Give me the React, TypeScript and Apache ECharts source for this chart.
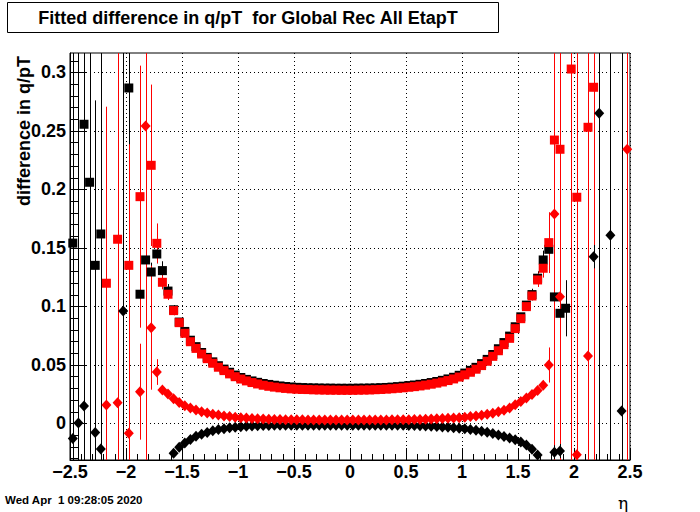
import React, { useEffect, useRef } from "react";
import * as echarts from "echarts";

// ---- binning / axes ----
const ETA_MIN = -2.5;
const BIN_WIDTH = 0.05;
const X_MIN = -2.5;
const X_MAX = 2.5;
const Y_MIN = -0.0314;
const Y_MAX = 0.3165;
const Y_TICKS = [0, 0.05, 0.1, 0.15, 0.2, 0.25, 0.3];
const Y_MINOR = [
  -0.03, -0.02, -0.01, 0.01, 0.02, 0.03, 0.04, 0.06, 0.07, 0.08, 0.09, 0.11, 0.12, 0.13, 0.14,
  0.16, 0.17, 0.18, 0.19, 0.21, 0.22, 0.23, 0.24, 0.26, 0.27, 0.28, 0.29, 0.31,
];
const BIG = 1;

// ---- series values per eta bin (100 bins, null = not filled) ----
const BLACK_SQ: (number | null)[] = [
  0.154, null, 0.2556, 0.206, 0.135, 0.1618, null, null, null, null,
  0.2866, null, 0.1103, 0.1396, 0.1293, 0.1447, 0.1305, 0.113, 0.097, 0.0865,
  0.0785, 0.071, 0.0655, 0.0605, 0.0563, 0.0525, 0.0492, 0.0463, 0.0436, 0.0412,
  0.0391, 0.0375, 0.0362, 0.035, 0.034, 0.0332, 0.0325, 0.0319, 0.0314, 0.031,
  0.0307, 0.0305, 0.0303, 0.0302, 0.0301, 0.03, 0.03, 0.0299, 0.0299, 0.0299,
  0.0299, 0.03, 0.03, 0.0301, 0.0302, 0.0304, 0.0306, 0.0309, 0.0313, 0.0317,
  0.0322, 0.0327, 0.0333, 0.034, 0.0348, 0.0357, 0.0367, 0.0379, 0.0393, 0.041,
  0.0429, 0.0452, 0.0478, 0.051, 0.0546, 0.0588, 0.0637, 0.069, 0.0745, 0.0825,
  0.091, 0.101, 0.11, 0.124, 0.1396, 0.1487, 0.108, 0.094, 0.0983, null,
  null, null, null, null, null, null, null, null, null, null,
];
const RED_SQ: (number | null)[] = [
  null, null, null, null, null, null, 0.1197, null, 0.1573, null,
  0.135, null, 0.1937, null, 0.2205, 0.1538, 0.1205, 0.1103, 0.0963, 0.086,
  0.0769, 0.0697, 0.064, 0.0592, 0.0552, 0.0513, 0.0479, 0.045, 0.0422, 0.0398,
  0.0378, 0.0362, 0.0348, 0.0336, 0.0325, 0.0316, 0.0309, 0.0303, 0.0298, 0.0294,
  0.0291, 0.0289, 0.0288, 0.0286, 0.0285, 0.0284, 0.0283, 0.0283, 0.0282, 0.0282,
  0.0282, 0.0283, 0.0284, 0.0285, 0.0287, 0.0289, 0.0292, 0.0295, 0.0299, 0.0303,
  0.0308, 0.0313, 0.0319, 0.0326, 0.0334, 0.0343, 0.0353, 0.0365, 0.0379, 0.0395,
  0.0414, 0.0436, 0.0462, 0.0493, 0.053, 0.0572, 0.062, 0.0672, 0.0726, 0.0809,
  0.0894, 0.0997, 0.1088, 0.1225, 0.1325, 0.1544, 0.2421, 0.2342, null, 0.3028,
  0.1932, null, 0.253, 0.2872, null, null, null, null, null, null,
];
const BLACK_DIA: (number | null)[] = [
  -0.013, 0.0003, 0.0148, null, -0.008, -0.022, null, null, null, 0.096,
  null, null, null, null, null, null, null, null, -0.0256, -0.0205,
  -0.0168, -0.0138, -0.0112, -0.0093, -0.0078, -0.0065, -0.0054, -0.0046, -0.0039, -0.0033,
  -0.0029, -0.0026, -0.0023, -0.0021, -0.002, -0.0019, -0.0018, -0.0017, -0.0017, -0.0016,
  -0.0016, -0.0016, -0.0016, -0.0016, -0.0016, -0.0016, -0.0016, -0.0016, -0.0016, -0.0016,
  -0.0016, -0.0016, -0.0016, -0.0016, -0.0016, -0.0017, -0.0017, -0.0017, -0.0018, -0.0018,
  -0.0019, -0.002, -0.0022, -0.0024, -0.0026, -0.0028, -0.0031, -0.0034, -0.0038, -0.0042,
  -0.0047, -0.0053, -0.006, -0.0068, -0.0077, -0.0088, -0.01, -0.0113, -0.0126, -0.0141,
  -0.016, -0.0185, -0.0222, -0.0272, null, null, -0.0248, -0.0237, null, null,
  null, null, null, 0.1424, 0.265, null, 0.1607, null, 0.0105, null,
];
const RED_DIA: (number | null)[] = [
  null, null, null, null, null, null, 0.0156, null, 0.0176, null,
  -0.0085, null, 0.027, 0.2541, 0.0817, 0.0438, 0.0285, 0.025, 0.021, 0.0178,
  0.015, 0.013, 0.0113, 0.0099, 0.0087, 0.0078, 0.007, 0.0063, 0.0057, 0.0052,
  0.0048, 0.0044, 0.0041, 0.0038, 0.0036, 0.0034, 0.0033, 0.0032, 0.0031, 0.003,
  0.0029, 0.0029, 0.0028, 0.0028, 0.0028, 0.0027, 0.0027, 0.0027, 0.0027, 0.0027,
  0.0027, 0.0027, 0.0027, 0.0027, 0.0028, 0.0028, 0.0028, 0.0029, 0.0029, 0.003,
  0.0031, 0.0032, 0.0033, 0.0034, 0.0036, 0.0038, 0.004, 0.0042, 0.0045, 0.0048,
  0.0052, 0.0057, 0.0063, 0.0069, 0.0076, 0.0086, 0.0098, 0.0112, 0.013, 0.0158,
  0.0187, 0.0215, 0.0245, 0.028, 0.0325, 0.0498, 0.1789, 0.1082, null, null,
  -0.027, null, 0.0575, null, null, null, null, null, null, 0.2342,
];

// ---- errors: [bin index, error] (others negligible) ----
const BLACK_SQ_ERR: [number, number][] = [
  [0, BIG], [2, BIG], [3, BIG], [4, 0.004], [5, BIG], [10, BIG], [12, 0.008], [13, 0.008],
  [14, 0.008], [15, 0.008], [16, 0.008], [17, 0.006], [18, 0.004], [82, 0.005], [83, 0.006],
  [84, 0.008], [85, 0.01], [86, 0.01], [87, 0.01], [88, 0.024],
];
const RED_SQ_ERR: [number, number][] = [
  [6, 0.006], [8, BIG], [10, 0.005], [12, 0.112], [14, 0.069], [15, 0.017], [16, 0.006],
  [17, 0.005], [18, 0.004], [83, 0.006], [84, 0.008], [85, 0.026], [86, BIG], [87, BIG],
  [89, BIG], [90, BIG], [92, BIG], [93, BIG],
];
const BLACK_DIA_ERR: [number, number][] = [
  [0, BIG], [1, BIG], [2, BIG], [4, 0.284], [5, BIG], [9, BIG], [18, 0.003], [83, 0.003],
  [86, 0.006], [87, 0.006], [93, 0.01], [94, BIG], [96, BIG], [98, BIG],
];
const RED_DIA_ERR: [number, number][] = [
  [6, 0.255], [8, 0.01], [10, 0.247], [12, 0.041], [13, BIG], [14, 0.053], [15, 0.011],
  [16, 0.004], [84, 0.004], [85, 0.015], [86, 0.01], [87, 0.01], [90, 0.01], [92, 0.01],
  [99, BIG],
];

const TITLE = "Fitted difference in q/pT  for Global Rec All EtapT";
const Y_TITLE = "difference in q/pT";
const X_TITLE = "η";
const DATE = "Wed Apr  1 09:28:05 2020";

const FONT = "'Liberation Sans', Arial, Helvetica, sans-serif";

function binCenter(i: number) {
  return ETA_MIN + BIN_WIDTH * (i + 0.5);
}

function points(vals: (number | null)[]) {
  const out: number[][] = [];
  vals.forEach((v, i) => {
    if (v !== null) out.push([binCenter(i), v]);
  });
  return out;
}

function errPoints(vals: (number | null)[], errs: [number, number][]) {
  const out: number[][] = [];
  errs.forEach(([i, e]) => {
    const v = vals[i];
    if (v !== null && v !== undefined) out.push([binCenter(i), v, e]);
  });
  return out;
}

function errSeries(data: number[][], color: string) {
  return {
    type: "custom",
    coordinateSystem: "cartesian2d",
    silent: true,
    data,
    encode: { x: 0, y: 1 },
    renderItem: (params: any, api: any) => {
      const cs = params.coordSys;
      const x = api.value(0);
      const y = api.value(1);
      const e = api.value(2);
      const px = Math.round(api.coord([x, y])[0]) + 0.5;
      let top = api.coord([x, y + e])[1];
      let bot = api.coord([x, y - e])[1];
      top = Math.max(top, cs.y);
      bot = Math.min(bot, cs.y + cs.height);
      if (top >= bot) return null;
      return {
        type: "line",
        shape: { x1: px, y1: top, x2: px, y2: bot },
        style: { stroke: color, lineWidth: 1 },
      };
    },
  };
}

function markerSeries(data: number[][], color: string, symbol: string, size: any) {
  return {
    type: "scatter",
    data,
    symbol,
    symbolSize: size,
    silent: true,
    clip: true,
    itemStyle: { color, borderWidth: 0, opacity: 1 },
  };
}

export default function App() {
  const ref = useRef<HTMLDivElement>(null);
  useEffect(() => {
    document.body.style.margin = "0";
    const chart = echarts.init(ref.current!, undefined, { renderer: "svg", width: 700, height: 512 });
    const option: any = {
      animation: false,
      backgroundColor: "#fff",
      grid: {
        left: 70,
        top: 53,
        width: 560,
        height: 407,
        show: true,
        borderColor: "#000",
        borderWidth: 1,
        backgroundColor: "#fff",
      },
      xAxis: {
        type: "value",
        min: X_MIN,
        max: X_MAX,
        interval: 0.5,
        axisLine: { show: true, onZero: false, lineStyle: { color: "#000", width: 1 } },
        axisTick: { show: true, inside: true, length: 12, lineStyle: { color: "#000" } },
        minorTick: { show: true, splitNumber: 5, length: 6, lineStyle: { color: "#000" } },
        splitLine: { show: true, lineStyle: { color: "#000", width: 1, type: [1, 3] } },
        axisLabel: {
          margin: 3,
          color: "#000",
          fontSize: 18,
          fontWeight: "bold",
          fontFamily: FONT,
          formatter: (v: number) => {
            const r = Math.round(v * 10) / 10;
            return (r < 0 ? "\u2212" : "") + String(Math.abs(r));
          },
        },
      },
      yAxis: {
        type: "value",
        min: Y_MIN,
        max: Y_MAX,
        axisLine: { show: true, onZero: false, lineStyle: { color: "#000", width: 1 } },
        axisTick: { show: false },
        splitLine: { show: false },
        axisLabel: {
          customValues: Y_TICKS,
          margin: 4,
          color: "#000",
          fontSize: 18,
          fontWeight: "bold",
          fontFamily: FONT,
          formatter: (v: number) => String(Math.round(v * 100) / 100),
        },
      },
      graphic: [
        {
          type: "rect",
          shape: { x: 7.5, y: 2.5, width: 491, height: 30 },
          style: { fill: "#fff", stroke: "#000", lineWidth: 1 },
        },
        {
          type: "text",
          x: 248,
          y: 18,
          style: {
            text: TITLE,
            fill: "#000",
            font: `bold 18px ${FONT}`,
            textAlign: "center",
            textVerticalAlign: "middle",
          },
        },
        {
          type: "text",
          x: 24,
          y: 56,
          rotation: Math.PI / 2,
          style: {
            text: Y_TITLE,
            fill: "#000",
            font: `bold 18px ${FONT}`,
            textAlign: "right",
            textVerticalAlign: "middle",
          },
        },
        {
          type: "text",
          x: 5,
          y: 500,
          style: {
            text: DATE,
            fill: "#000",
            font: `bold 11.5px ${FONT}`,
            textAlign: "left",
            textVerticalAlign: "middle",
          },
        },
        {
          type: "text",
          x: 623,
          y: 503,
          style: {
            text: X_TITLE,
            fill: "#000",
            font: `17px 'DejaVu Serif', serif`,
            textAlign: "center",
            textVerticalAlign: "middle",
          },
        },
      ],
      series: [
        {
          type: "custom",
          coordinateSystem: "cartesian2d",
          silent: true,
          data: Y_TICKS.map((v) => [X_MIN, v]),
          encode: { x: 0, y: 1 },
          renderItem: (params: any, api: any) => {
            const cs = params.coordSys;
            const y = Math.round(api.coord([X_MIN, api.value(1)])[1]) + 0.5;
            return {
              type: "group",
              children: [
                {
                  type: "line",
                  shape: { x1: cs.x, y1: y, x2: cs.x + cs.width, y2: y },
                  style: { stroke: "#000", lineWidth: 1, lineDash: [1, 3] },
                },
                {
                  type: "line",
                  shape: { x1: cs.x, y1: y, x2: cs.x + 16, y2: y },
                  style: { stroke: "#000", lineWidth: 1 },
                },
              ],
            };
          },
        },
        {
          type: "custom",
          coordinateSystem: "cartesian2d",
          silent: true,
          data: Y_MINOR.map((v) => [X_MIN, v]),
          encode: { x: 0, y: 1 },
          renderItem: (params: any, api: any) => {
            const cs = params.coordSys;
            const y = Math.round(api.coord([X_MIN, api.value(1)])[1]) + 0.5;
            return {
              type: "line",
              shape: { x1: cs.x, y1: y, x2: cs.x + 8, y2: y },
              style: { stroke: "#000", lineWidth: 1 },
            };
          },
        },
        errSeries(errPoints(BLACK_SQ, BLACK_SQ_ERR), "#000"),
        markerSeries(points(BLACK_SQ), "#000", "rect", 9),
        errSeries(errPoints(RED_SQ, RED_SQ_ERR), "#ff0000"),
        markerSeries(points(RED_SQ), "#ff0000", "rect", 9),
        errSeries(errPoints(BLACK_DIA, BLACK_DIA_ERR), "#000"),
        markerSeries(points(BLACK_DIA), "#000", "diamond", [10, 11]),
        errSeries(errPoints(RED_DIA, RED_DIA_ERR), "#ff0000"),
        markerSeries(points(RED_DIA), "#ff0000", "diamond", [10, 11]),
      ],
    };
    chart.setOption(option);
    return () => chart.dispose();
  }, []);
  return (
    <div
      ref={ref}
      style={{ position: "absolute", left: 0, top: 0, width: 700, height: 512 }}
    />
  );
}
